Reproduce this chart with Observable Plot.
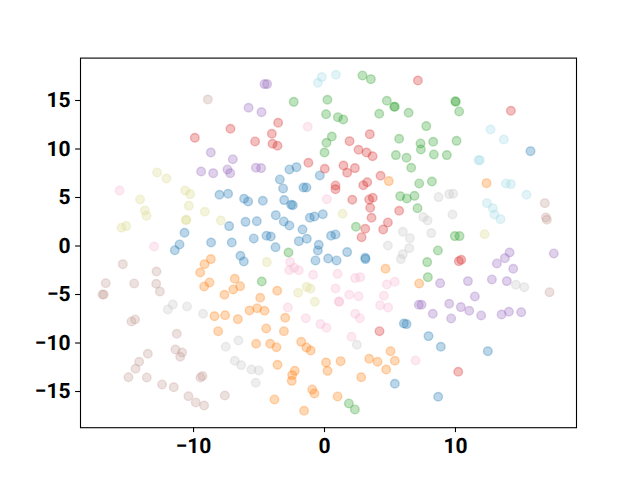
<!DOCTYPE html>
<html><head><meta charset="utf-8">
<script src="https://cdn.jsdelivr.net/npm/d3@7"></script>
<script src="https://cdn.jsdelivr.net/npm/@observablehq/plot@0.6"></script>
<style>html,body{margin:0;padding:0;background:#fff}svg{display:block;text-rendering:geometricPrecision}</style>
</head><body><div id="chart"></div>
<script>
const c0=[[-2.68,7.89],[-2.14,8.13],[-0.36,7.27],[-3.41,6.86],[-3.16,5.93],[-1.61,6.03],[-1.38,6.03],[-8.02,5.28],[-7.36,5.38],[-6.14,4.87],[-5.83,4.59],[-4.71,4.66],[-3.08,4.73],[-2.55,4.25],[-2.42,4.21],[-0.13,3.28],[-3.72,3.18],[-1.12,2.91],[-0.77,3.04],[-3.11,2.53],[-2.68,2.12],[-6.03,2.49],[-5.17,2.56],[-7.28,2.05],[-1.68,1.70],[-10.69,1.36],[-4.43,1.05],[-4.10,0.98],[-5.40,0.78],[-1.96,0.50],[-1.35,0.74],[0.50,1.05],[-0.44,0.12],[-3.74,-0.12],[-11.07,0.16],[-8.66,0.36],[-7.08,0.36],[-11.43,-0.43],[-6.42,-1.01],[-6.16,-1.59],[-0.51,-0.46],[-0.69,-1.49],[0.28,-1.29],[0.92,-1.49],[1.73,-0.63],[3.11,-1.22],[3.13,-1.35],[6.06,-7.99],[6.26,-8.05],[7.94,-9.29],[8.88,-10.39],[12.47,-10.84],[5.37,-14.20],[8.68,-15.54],[0.84,1.19],[15.73,9.78]];
const c1=[[-8.68,-1.35],[-9.16,-1.87],[-9.49,-2.73],[-8.78,-3.76],[-9.19,-4.17],[-6.85,-3.38],[-6.44,-4.14],[-6.97,-4.48],[-7.64,-5.03],[-3.61,-4.62],[-4.91,-5.34],[-5.14,-6.41],[-4.58,-6.68],[-5.73,-6.65],[-8.40,-7.23],[-7.59,-7.13],[-6.62,-7.54],[-3.00,-7.40],[-8.12,-8.78],[-4.45,-8.50],[-3.10,-8.78],[-5.22,-10.08],[-4.15,-10.08],[-3.67,-10.43],[-1.78,-9.88],[-1.38,-10.46],[-1.05,-10.77],[0.12,-12.01],[0.23,-12.87],[-3.59,-12.25],[-2.27,-12.87],[-2.47,-13.31],[-2.50,-13.90],[-0.94,-14.79],[-0.77,-15.20],[-3.82,-15.82],[-1.56,-16.99],[4.66,-2.35],[7.23,-3.86],[1.23,-11.87],[3.41,-11.63],[4.05,-11.94],[5.04,-10.84],[5.37,-11.83],[4.71,-12.73],[2.80,-13.52],[1.00,-15.51],[4.91,6.69],[12.37,6.48]];
const c2=[[-2.35,14.86],[0.22,15.07],[0.12,13.59],[0.15,10.64],[0.00,9.64],[2.90,17.58],[3.54,17.20],[4.76,14.97],[5.32,14.35],[5.37,14.35],[4.18,13.63],[6.42,13.73],[1.02,13.28],[1.43,13.04],[9.98,14.93],[10.03,14.86],[10.28,13.87],[7.77,12.36],[0.56,11.29],[5.70,11.05],[7.33,10.57],[7.36,9.95],[8.30,10.74],[10.08,10.84],[5.45,9.37],[6.26,9.09],[8.35,9.44],[9.34,9.37],[6.62,8.06],[7.23,6.45],[8.20,6.65],[5.78,5.14],[6.29,4.90],[6.87,5.17],[7.10,3.90],[2.40,1.98],[9.95,1.02],[10.31,1.02],[8.66,-0.46],[7.84,-1.66],[7.89,-3.21],[1.86,-16.23],[2.32,-16.85],[-2.75,-0.67],[-4.79,-3.66]];
const c3=[[-3.54,12.70],[-7.18,12.08],[-9.90,11.15],[-4.02,11.57],[-5.30,10.78],[-3.97,10.54],[-3.59,10.33],[-1.23,8.58],[0.02,7.96],[7.13,17.06],[14.23,13.94],[3.46,11.53],[1.91,10.81],[2.60,9.92],[3.21,9.64],[3.67,9.26],[1.45,8.30],[2.32,8.03],[1.73,7.55],[4.28,7.24],[3.26,6.58],[2.96,6.27],[0.84,6.24],[0.84,5.86],[3.69,4.97],[3.41,4.80],[2.12,4.76],[3.49,3.94],[5.70,3.63],[3.59,2.91],[4.84,2.43],[4.48,1.70],[3.11,1.77],[2.83,0.91],[10.26,-1.56],[10.44,-1.42],[4.20,-8.78],[10.21,-12.97]];
const c4=[[-4.58,16.69],[-4.38,16.69],[-5.80,14.25],[-4.81,13.80],[-8.68,9.64],[-7.00,8.95],[-9.42,7.68],[-8.50,7.51],[-7.41,7.89],[-7.20,7.51],[-5.24,8.06],[-4.84,8.03],[14.13,-0.67],[13.77,-1.25],[13.16,-1.80],[14.41,-2.35],[17.51,-0.77],[8.83,-3.83],[10.95,-3.62],[12.78,-3.45],[13.92,-3.62],[11.48,-5.20],[7.20,-6.06],[7.41,-6.06],[9.52,-5.96],[10.41,-6.30],[11.05,-6.68],[8.27,-6.99],[9.67,-7.47],[11.96,-7.16],[13.52,-7.06],[14.08,-6.78],[15.02,-6.82]];
const c5=[[-8.91,15.10],[16.82,4.42],[16.90,2.94],[16.98,2.70],[17.18,-4.76],[-15.40,-1.87],[-12.83,-2.63],[-16.70,-3.83],[-14.53,-3.86],[-12.85,-3.90],[-12.57,-4.69],[-16.95,-5.00],[-16.85,-5.00],[-14.46,-7.57],[-14.74,-7.78],[-11.28,-9.05],[-11.38,-10.67],[-10.87,-10.98],[-11.02,-11.42],[-13.49,-11.11],[-14.15,-11.94],[-14.43,-12.66],[-14.97,-13.52],[-13.57,-13.55],[-9.32,-13.41],[-9.47,-13.55],[-12.40,-14.27],[-11.51,-14.55],[-10.39,-15.48],[-9.83,-16.13],[-9.19,-16.44],[-7.61,-15.41]];
const c6=[[-1.28,12.29],[-15.65,5.72],[0.18,4.83],[-13.01,-0.05],[-2.62,-1.66],[-2.32,-2.25],[-2.70,-2.49],[-1.96,-2.49],[-0.87,-2.97],[-2.80,-6.34],[-1.43,-7.44],[-0.31,-8.05],[0.15,-8.43],[1.00,-2.87],[2.34,-3.31],[2.73,-3.21],[0.84,-4.38],[1.89,-5.03],[2.60,-5.17],[1.10,-5.72],[1.12,-5.75],[2.34,-6.99],[2.70,-7.44],[2.06,-9.36],[4.76,-3.97],[5.37,-3.69],[4.53,-5.13],[4.25,-6.10],[4.86,-6.34],[6.95,-11.80]];
const c7=[[8.71,5.04],[9.52,5.35],[9.83,5.38],[9.77,3.25],[7.54,2.98],[7.87,2.63],[5.98,1.46],[6.52,0.81],[8.15,1.33],[4.84,0.05],[6.47,-0.22],[5.98,-0.84],[5.83,-1.35],[14.61,-4.00],[15.25,-4.24],[2.47,-10.18],[-11.58,-6.03],[-11.96,-6.54],[-10.49,-6.23],[-9.27,-6.99],[-6.57,-9.74],[-7.54,-10.39],[-6.85,-11.83],[-6.36,-12.28],[-5.58,-12.73],[-5.02,-12.83],[-5.25,-14.10]];
const c8=[[-12.78,7.58],[-12.07,6.96],[-10.64,5.72],[-10.26,5.35],[-14.08,4.80],[-10.36,4.14],[-9.14,3.53],[-13.72,3.66],[-13.59,3.11],[-10.59,2.67],[-10.54,2.70],[-7.92,2.63],[-15.50,1.88],[-15.14,2.05],[1.38,3.32],[12.22,1.22],[-4.40,-1.66],[-1.35,-4.21],[-1.07,-4.41],[-2.01,-4.82],[-0.74,-5.75]];
const c9=[[-0.21,17.41],[-0.51,16.82],[0.87,17.65],[12.68,12.01],[13.69,10.98],[11.76,8.85],[11.86,8.85],[13.85,6.45],[14.23,6.38],[15.42,5.28],[12.40,4.42],[12.85,3.90],[12.98,3.25],[13.44,2.77]];

const seriesNames=["c0","c1","c2","c3","c4","c5","c6","c7","c8","c9"];
const seriesValues=[c0,c1,c2,c3,c4,c5,c6,c7,c8,c9];
const seriesColors=["#1f77b4","#ff7f0e","#2ca02c","#d62728","#9467bd","#c49c94","#f7b6d2","#c7c7c7","#dbdb8d","#9edae5"];
const xTicks=[-10,0,10];
const yTicks=[-15,-10,-5,0,5,10,15];
const xDomain=[-18.63,19.24];
const yDomain=[-18.73,19.37];

const rows=seriesNames.flatMap((s,i)=>seriesValues[i].map(([x,y])=>({x,y,s})));
const fmt=d=>String(d).replace("-","\u2212");
const axisStyle={fontFamily:"Roboto",fontSize:21,fontWeight:700,tickSize:4.9,tickPadding:5,strokeWidth:1.1,color:"#000",label:null,tickFormat:fmt};
const chart=Plot.plot({
  width:640,height:480,
  marginLeft:80,marginRight:64,marginTop:57.6,marginBottom:52.8,
  style:{background:"#fff",color:"#000",fontFamily:"Roboto"},
  x:{domain:xDomain},y:{domain:yDomain},
  color:{type:"ordinal",domain:seriesNames,range:seriesColors},
  marks:[
    Plot.dot(rows,{x:"x",y:"y",fill:"s",stroke:"s",r:4.3,strokeWidth:1.39,fillOpacity:0.3,strokeOpacity:0.3}),
    Plot.frame({stroke:"#000",strokeWidth:1.1}),
    Plot.axisX({...axisStyle,ticks:xTicks}),
    Plot.axisY({...axisStyle,ticks:yTicks})
  ]
});
document.getElementById("chart").append(chart);
</script></body></html>
